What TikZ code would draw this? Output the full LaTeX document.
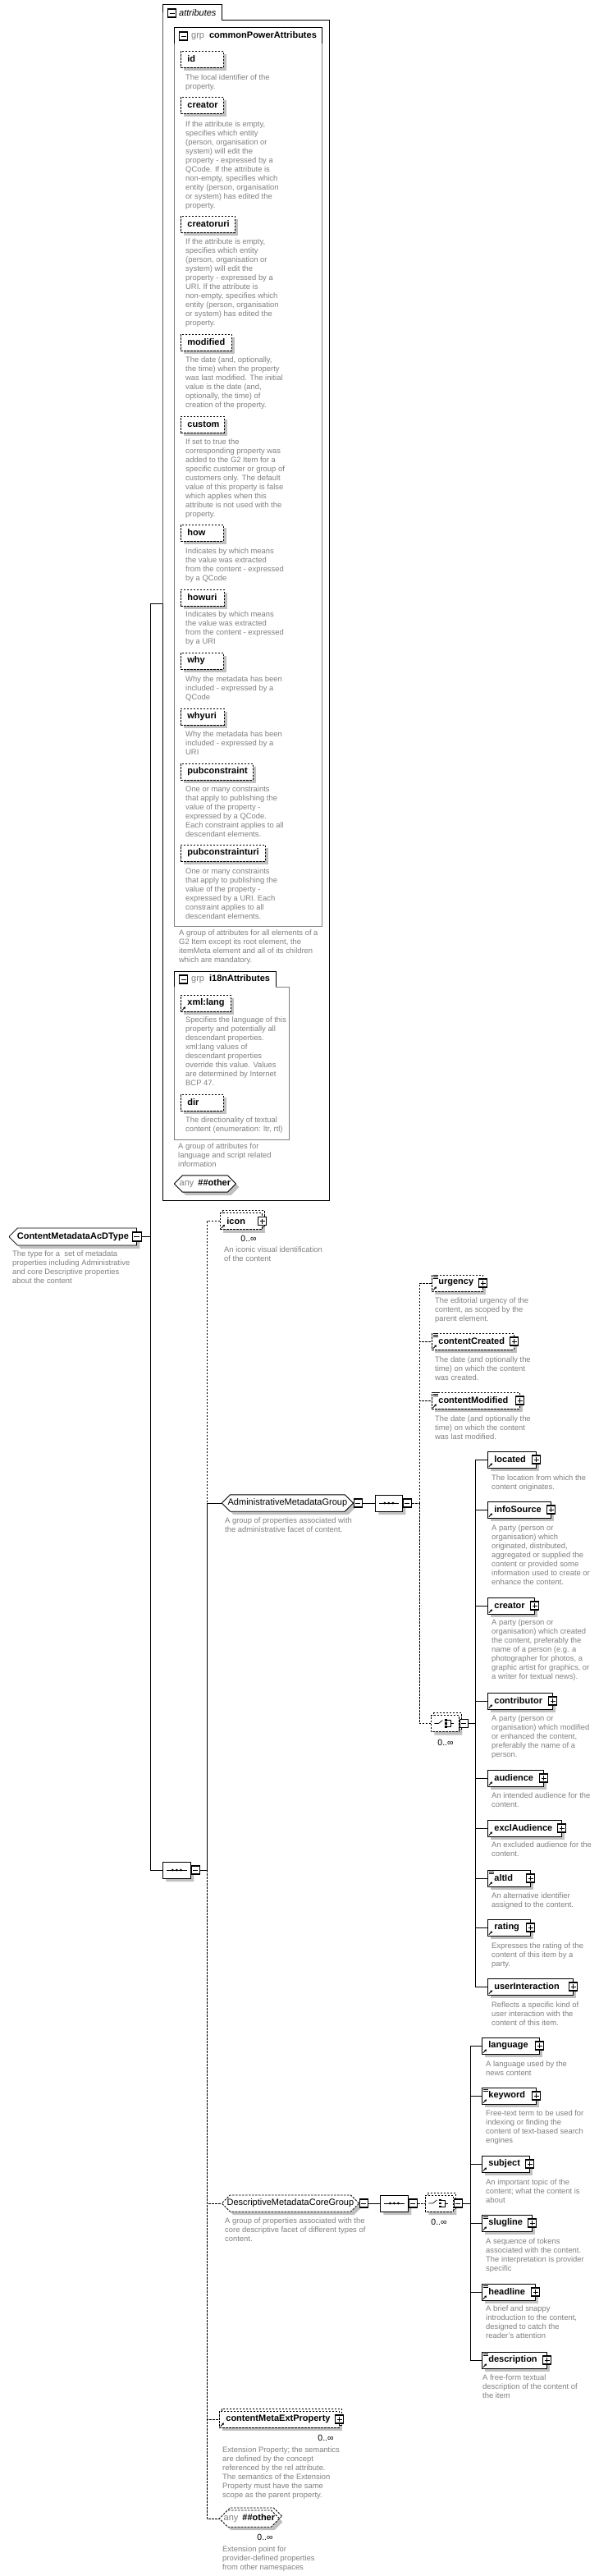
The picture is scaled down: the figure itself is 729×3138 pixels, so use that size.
\documentclass[tikz,border=0pt]{standalone}
\usepackage{fontspec}
\setmainfont{Liberation Sans}
\usetikzlibrary{shapes.misc, shadows, arrows.meta, positioning}

\definecolor{descgray}{RGB}{128,128,128}
\definecolor{shadegray}{RGB}{192,192,192}

\newcommand{\boldname}{\fontsize{11}{13}\selectfont\bfseries}
\newcommand{\plainname}{\fontsize{11}{13}\selectfont}
\newcommand{\desctext}{\fontsize{9.4}{11}\selectfont}

\newcommand{\refmark}[1]{\draw[line width=.9pt, -{Triangle[length=2.4pt, width=2.8pt]}] ([xshift=1.8pt, yshift=1.8pt]#1.south west) -- ([xshift=6pt, yshift=6pt]#1.south west);}
\newcommand{\mixmark}[1]{\foreach \dd in {0.5,2.7,4.9}{\draw[line width=.6pt] ([xshift=2pt, yshift=-\dd*1pt]#1.north west) -- ([xshift=7.5pt, yshift=-\dd*1pt]#1.north west);}}
\newcommand{\seqmark}[1]{\draw[line width=.9pt] ([xshift=5pt]#1.west) -- ([xshift=-5pt]#1.east);
  \foreach \dx in {-5,0,5}{\fill ([xshift=\dx*1pt]#1.center) circle (1.5pt);}}
\newcommand{\choicemark}[1]{\draw[line width=.7pt] ([xshift=-13pt]#1.center) -- ([xshift=-8pt]#1.center) -- ([xshift=-3pt, yshift=4pt]#1.center);
  \foreach \dy in {-4,0,4}{\fill ([xshift=1pt, yshift=\dy*1pt]#1.center) +(-1.2pt,-1.2pt) rectangle +(1.2pt,1.2pt);}
  \draw[line width=.7pt] ([xshift=2.5pt, yshift=4pt]#1.center) -- ([xshift=7pt, yshift=4pt]#1.center) -- ([xshift=7pt, yshift=-4pt]#1.center) -- ([xshift=2.5pt, yshift=-4pt]#1.center)
    ([xshift=7pt]#1.center) -- ([xshift=11pt]#1.center);}

\tikzset{
  boxshadow/.style={drop shadow={shadow xshift=4pt, shadow yshift=-4pt, fill=shadegray, opacity=1}},
  dashline/.style={dash pattern=on 2.5pt off 1.5pt},
  multi/.style={preaction={draw, fill=white, line width=.8pt, dashline, transform canvas={xshift=3pt, yshift=3pt}}},
  elbox/.style={draw, fill=white, line width=.8pt, anchor=west, minimum height=20pt,
    inner xsep=8pt, inner ysep=0pt, align=left, font=\boldname, boxshadow, text width=#1},
  optbox/.style={elbox=#1, dashline},
  grpbox/.style={draw, fill=white, line width=.8pt, chamfered rectangle,
    chamfered rectangle xsep=5pt, chamfered rectangle ysep=5pt, anchor=west,
    minimum height=20pt, minimum width=#1, inner sep=0pt, font=\plainname, boxshadow},
  plusbox/.style={draw, solid, fill=white, line width=1.2pt, minimum size=10pt, inner sep=0pt,
    path picture={\draw[line width=.7pt] ([xshift=2pt]path picture bounding box.west) -- ([xshift=-2pt]path picture bounding box.east)
      ([yshift=-2pt]path picture bounding box.north) -- ([yshift=2pt]path picture bounding box.south);}},
  minusbox/.style={draw, solid, fill=white, line width=1.2pt, minimum size=10pt, inner sep=0pt,
    path picture={\draw[line width=.7pt] ([xshift=2pt]path picture bounding box.west) -- ([xshift=-2pt]path picture bounding box.east);}},
  desc/.style={anchor=north west, inner sep=0pt, align=left, font=\desctext, text=descgray},
  occ/.style={inner sep=0pt, font=\fontsize{10.5}{12}\selectfont},
  link/.style={line width=.8pt},
}

\begin{document}
\begin{tikzpicture}[x=1pt, y=-1pt]
\useasboundingbox (0,0) rectangle (729,3138);

% attributes
\draw[line width=.8pt] (198,24) -- (198,5) -- (270,5) -- (270,24) -- (401,24) -- (401,1462) -- (198,1462) -- cycle;
\node[minusbox] at (209.5,16) (attrMinus) {};
\node[anchor=west, inner sep=0pt, font=\plainname\itshape] at (218,16) (attrTitle) {attributes};

\draw[descgray, line width=.8pt] (392,53) -- (392,1128) -- (212,1128) -- (212,53);
\draw[line width=.8pt] (212,53) -- (212,33) -- (392,33) -- (392,53);
\node[minusbox] at (223.5,44) (cpaMinus) {};
\node[anchor=west, inner sep=0pt, font=\plainname] at (233,44) (cpaTitle) {\textcolor{descgray}{grp}\hspace{6pt}\textbf{commonPowerAttributes}};

\node[optbox=36pt] at (220,72) (id) {id};
\node[desc] at (226,90.5) (idD) {The local identifier of the\\property.};
\node[optbox=36pt] at (220,128) (creatorA) {creator};
\node[desc] at (226,147.5) (creatorAD) {If the attribute is empty,\\specifies which entity\\(person, organisation or\\system) will edit the\\property - expressed by a\\QCode. If the attribute is\\non-empty, specifies which\\entity (person, organisation\\or system) has edited the\\property.};
\node[optbox=50pt] at (220,273) (creatoruri) {creatoruri};
\node[desc] at (226,290.5) (creatoruriD) {If the attribute is empty,\\specifies which entity\\(person, organisation or\\system) will edit the\\property - expressed by a\\URI. If the attribute is\\non-empty, specifies which\\entity (person, organisation\\or system) has edited the\\property.};
\node[optbox=46pt] at (220,417) (modified) {modified};
\node[desc] at (226,434.5) (modifiedD) {The date (and, optionally,\\the time) when the property\\was last modified. The initial\\value is the date (and,\\optionally, the time) of\\creation of the property.};
\node[optbox=37pt] at (220,517) (custom) {custom};
\node[desc] at (226,534.5) (customD) {If set to true the\\corresponding property was\\added to the G2 Item for a\\specific customer or group of\\customers only. The default\\value of this property is false\\which applies when this\\attribute is not used with the\\property.};
\node[optbox=36pt] at (220,649) (how) {how};
\node[desc] at (226,667.5) (howD) {Indicates by which means\\the value was extracted\\from the content - expressed\\by a QCode};
\node[optbox=37pt] at (220,728) (howuri) {howuri};
\node[desc] at (226,744.5) (howuriD) {Indicates by which means\\the value was extracted\\from the content - expressed\\by a URI};
\node[optbox=36pt] at (220,805) (why) {why};
\node[desc] at (226,823.5) (whyD) {Why the metadata has been\\included - expressed by a\\QCode};
\node[optbox=37pt] at (220,873) (whyuri) {whyuri};
\node[desc] at (226,890.5) (whyuriD) {Why the metadata has been\\included - expressed by a\\URI};
\node[optbox=72pt] at (220,940) (pubconstraint) {pubconstraint};
\node[desc] at (226,957.5) (pubconstraintD) {One or many constraints\\that apply to publishing the\\value of the property -\\expressed by a QCode.\\Each constraint applies to all\\descendant elements.};
\node[optbox=87pt] at (220,1039) (pubconstrainturi) {pubconstrainturi};
\node[desc] at (226,1057.5) (pubconstrainturiD) {One or many constraints\\that apply to publishing the\\value of the property -\\expressed by a URI. Each\\constraint applies to all\\descendant elements.};
\node[desc] at (218,1132.5) (cpaD) {A group of attributes for all elements of a\\G2 Item except its root element, the\\itemMeta element and all of its children\\which are mandatory.};

\draw[descgray, line width=.8pt] (336,1202) -- (352,1202) -- (352,1388) -- (212,1388) -- (212,1202);
\draw[line width=.8pt] (212,1202) -- (212,1183) -- (336,1183) -- (336,1202);
\node[minusbox] at (223.5,1193) (i18nMinus) {};
\node[anchor=west, inner sep=0pt, font=\plainname] at (233,1193) (i18nTitle) {\textcolor{descgray}{grp}\hspace{6pt}\textbf{i18nAttributes}};
\node[optbox=45pt] at (220,1222) (xmllang) {xml:lang};
\node[desc] at (226,1238.5) (xmllangD) {Specifies the language of this\\property and potentially all\\descendant properties.\\xml:lang values of\\descendant properties\\override this value. Values\\are determined by Internet\\BCP 47.};
\node[optbox=36pt] at (220,1343) (dir) {dir};
\node[desc] at (226,1360.5) (dirD) {The directionality of textual\\content (enumeration: ltr, rtl)};
\node[desc] at (217,1392.5) (i18nD) {A group of attributes for\\language and script related\\information};
\node[grpbox=75pt] at (212,1442) (attrAny) {\textcolor{descgray}{any}\hspace{5pt}\textbf{\#\#other}};

% root
\node[grpbox=155pt, chamfered rectangle corners={north west, south west}, minimum height=21pt, font=\boldname] at (11,1506.5) (root) {ContentMetadataAcDType};
\node[minusbox, minimum size=11pt] at (root.east) (rootMinus) {};
\node[desc] at (15,1523.5) (rootD) {The type for a \ set of metadata\\properties including Administrative\\and core Descriptive properties\\about the content};
\coordinate (rootJoin) at (183,1506.5);
\coordinate (attrIn) at (198,735);
\draw[link] (rootMinus.east) -- (rootJoin);
\draw[link] (rootJoin) |- (attrIn);

\node[grpbox=34pt] at (198,2278) (mainSeq) {};
\seqmark{mainSeq}
\node[minusbox, anchor=west] at (mainSeq.east) (mainSeqMinus) {};
\draw[link] (rootJoin) |- (mainSeq.west);
\coordinate (mainSpine) at (252,2278);
\draw[link] (mainSeqMinus.east) -- (mainSpine);

% main sequence children
\node[optbox=35pt, multi] at (268,1487.5) (icon) {icon};
\node[plusbox] at (icon.east) (iconPlus) {};
\node[occ] at (303,1509) (iconOcc) {0..∞};
\node[desc] at (273,1518.5) (iconD) {An iconic visual identification\\of the content};

\node[grpbox=160pt] at (270,1831) (adminGrp) {AdministrativeMetadataGroup};
\node[minusbox, anchor=west] at (adminGrp.east) (adminMinus) {};
\node[desc] at (274,1848.5) (adminD) {A group of properties associated with\\the administrative facet of content.};

\node[grpbox=167pt, dashline] at (270,2684) (descGrp) {DescriptiveMetadataCoreGroup};
\node[minusbox, anchor=west] at (descGrp.east) (descMinus) {};
\node[desc] at (274,2701.5) (descGrpD) {A group of properties associated with the\\core descriptive facet of different types of\\content.};

\node[optbox=130pt, multi] at (267,2947) (cmep) {contentMetaExtProperty};
\node[plusbox] at (cmep.east) (cmepPlus) {};
\node[occ] at (397,2970) (cmepOcc) {0..∞};
\node[desc] at (271,2980.5) (cmepD) {Extension Property; the semantics\\are defined by the concept\\referenced by the rel attribute.\\The semantics of the Extension\\Property must have the same\\scope as the parent property.};

\node[grpbox=73pt, dashline, multi] at (267,3068) (anyBottom) {\textcolor{descgray}{any}\hspace{5pt}\textbf{\#\#other}};
\node[occ] at (323,3091) (anyOcc) {0..∞};
\node[desc] at (271,3101.5) (anyD) {Extension point for\\provider-defined properties\\from other namespaces};

\foreach \n in {icon,descGrp,cmep,anyBottom}{
  \draw[link, dashline] (mainSpine) |- (\n.west);}
\draw[link] (mainSpine) |- (adminGrp.west);

% administrative group
\node[grpbox=33pt] at (457,1831) (adminSeq) {};
\seqmark{adminSeq}
\node[minusbox, anchor=west] at (adminSeq.east) (adminSeqMinus) {};
\draw[link] (adminMinus.east) -- (adminSeq.west);
\coordinate (adminSpine) at (511,1831);
\draw[link, dashline] (adminSeqMinus.east) -- (adminSpine);

\node[optbox=46pt] at (526,1563) (urgency) {urgency};
\node[desc] at (530,1580.5) (urgencyD) {The editorial urgency of the\\content, as scoped by the\\parent element.};
\node[optbox=84pt] at (526,1634) (contentCreated) {contentCreated};
\node[desc] at (530,1652.5) (contentCreatedD) {The date (and optionally the\\time) on which the content\\was created.};
\node[optbox=91pt] at (526,1706) (contentModified) {contentModified};
\node[desc] at (530,1724.5) (contentModifiedD) {The date (and optionally the\\time) on which the content\\was last modified.};

\node[grpbox=34pt, dashline, multi] at (525,2099.5) (adminChoice) {};
\choicemark{adminChoice}
\node[minusbox, anchor=west] at (adminChoice.east) (adminChoiceMinus) {};
\node[occ] at (543,2123) (adminChoiceOcc) {0..∞};
\foreach \n in {urgency,contentCreated,contentModified,adminChoice}{
  \draw[link, dashline] (adminSpine) |- (\n.west);}
\coordinate (choiceSpine) at (579,2099.5);
\draw[link] (adminChoiceMinus.east) -- (choiceSpine);

\node[elbox=43pt] at (594,1778) (located) {located};
\node[desc] at (599,1796.5) (locatedD) {The location from which the\\content originates.};
\node[elbox=61pt] at (594,1839) (infoSource) {infoSource};
\node[desc] at (599,1857.5) (infoSourceD) {A party (person or\\organisation) which\\originated, distributed,\\aggregated or supplied the\\content or provided some\\information used to create or\\enhance the content.};
\node[elbox=41pt] at (594,1956) (creatorE) {creator};
\node[desc] at (599,1972.5) (creatorED) {A party (person or\\organisation) which created\\the content, preferably the\\name of a person (e.g. a\\photographer for photos, a\\graphic artist for graphics, or\\a writer for textual news).};
\node[elbox=63pt] at (594,2072) (contributor) {contributor};
\node[desc] at (599,2089.5) (contributorD) {A party (person or\\organisation) which modified\\or enhanced the content,\\preferably the name of a\\person.};
\node[elbox=52pt] at (594,2166) (audience) {audience};
\node[desc] at (599,2183.5) (audienceD) {An intended audience for the\\content.};
\node[elbox=74pt] at (594,2227) (exclAudience) {exclAudience};
\node[desc] at (599,2243.5) (exclAudienceD) {An excluded audience for the\\content.};
\node[elbox=36pt] at (594,2288) (altId) {altId};
\node[desc] at (599,2305.5) (altIdD) {An alternative identifier\\assigned to the content.};
\node[elbox=36pt] at (594,2348) (rating) {rating};
\node[desc] at (599,2366.5) (ratingD) {Expresses the rating of the\\content of this item by a\\party.};
\node[elbox=88pt] at (594,2420) (userInteraction) {userInteraction};
\node[desc] at (599,2438.5) (userInteractionD) {Reflects a specific kind of\\user interaction with the\\content of this item.};
\foreach \n in {located,infoSource,creatorE,contributor,audience,exclAudience,altId,rating,userInteraction}{
  \draw[link] (choiceSpine) |- (\n.west);}

% descriptive group
\node[grpbox=34pt] at (463,2684) (descSeq) {};
\seqmark{descSeq}
\node[minusbox, anchor=west] at (descSeq.east) (descSeqMinus) {};
\node[grpbox=34pt, dashline, multi] at (518,2684) (descChoice) {};
\choicemark{descChoice}
\node[minusbox, anchor=west] at (descChoice.east) (descChoiceMinus) {};
\node[occ] at (535,2707) (descChoiceOcc) {0..∞};
\draw[link] (descMinus.east) -- (descSeq.west);
\draw[link, dashline] (descSeqMinus.east) -- (descChoice.west);
\coordinate (descSpine) at (573,2684);
\draw[link] (descChoiceMinus.east) -- (descSpine);

\node[elbox=54pt] at (587,2492) (language) {language};
\node[desc] at (592,2510.5) (languageD) {A language used by the\\news content};
\node[elbox=50pt] at (587,2553) (keyword) {keyword};
\node[desc] at (592,2570.5) (keywordD) {Free-text term to be used for\\indexing or finding the\\content of text-based search\\engines};
\node[elbox=42pt] at (587,2636) (subject) {subject};
\node[desc] at (592,2654.5) (subjectD) {An important topic of the\\content; what the content is\\about};
\node[elbox=45pt] at (587,2708) (slugline) {slugline};
\node[desc] at (592,2726.5) (sluglineD) {A sequence of tokens\\associated with the content.\\The interpretation is provider\\specific};
\node[elbox=49pt] at (587,2792) (headline) {headline};
\node[desc] at (592,2808.5) (headlineD) {A brief and snappy\\introduction to the content,\\designed to catch the\\reader's attention};
\node[elbox=63pt] at (587,2875) (description) {description};
\node[desc] at (588,2892.5) (descriptionD) {A free-form textual\\description of the content of\\the item};
\foreach \n in {language,keyword,subject,slugline,headline,description}{
  \draw[link] (descSpine) |- (\n.west);}

% plus boxes and marks
\foreach \n in {urgency,contentCreated,contentModified,located,infoSource,creatorE,contributor,audience,exclAudience,altId,rating,userInteraction,language,keyword,subject,slugline,headline,description}{
  \node[plusbox] at (\n.east) (\n Plus) {};}
\foreach \n in {icon,urgency,contentCreated,contentModified,located,infoSource,creatorE,contributor,audience,exclAudience,altId,rating,userInteraction,language,keyword,subject,slugline,headline,description,cmep,xmllang}{
  \refmark{\n}}
\foreach \n in {urgency,contentCreated,contentModified,altId,keyword,slugline,headline,description}{
  \mixmark{\n}}

\end{tikzpicture}
\end{document}
